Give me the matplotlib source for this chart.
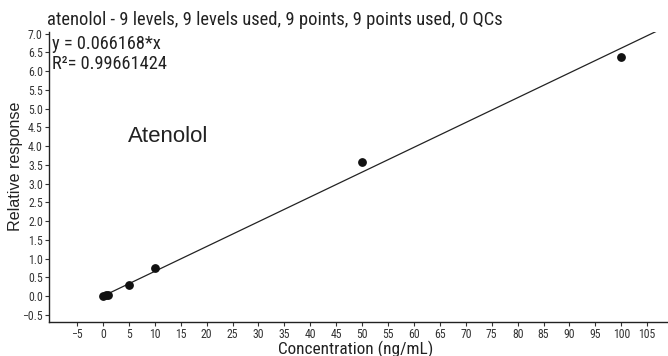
import matplotlib
matplotlib.use("Agg")
import matplotlib.pyplot as plt
import numpy as np

conc = [0, 0.5, 1, 5, 10, 50, 100]
resp = [0.0, 0.02, 0.04, 0.31, 0.755, 3.57, 6.39]
slope = 0.066168
xticks = list(range(-5, 110, 5))
yticks = [-0.5, 0, 0.5, 1, 1.5, 2, 2.5, 3, 3.5, 4, 4.5, 5, 5.5, 6, 6.5, 7]

narrow = ["Roboto Condensed", "Archivo Narrow", "Barlow Semi Condensed", "DejaVu Sans"]
reg = ["Liberation Sans", "DejaVu Sans"]

fig = plt.figure(figsize=(6.68, 3.56), dpi=100)
ax = fig.add_axes([0.0734, 0.0955, 0.925, 0.815])
ax.set_xlim(-10.4, 108.8)
ax.set_ylim(-0.69, 7.05)

lx = np.array([0, 107.5])
ax.plot(lx, slope * lx, color="#222222", lw=0.9)
ax.scatter(conc, resp, s=28, color="#111111", zorder=3)

ax.spines["top"].set_visible(False)
ax.spines["right"].set_visible(False)
for s in ("left", "bottom"):
    ax.spines[s].set_linewidth(1.0)
    ax.spines[s].set_color("#222222")

ax.set_xticks(xticks)
ax.set_xticklabels(["\u2212" + str(-t) if t < 0 else str(t) for t in xticks])
ax.set_yticks(yticks)
ax.set_yticklabels([("\u2212%.1f" % -t) if t < 0 else "%.1f" % t for t in yticks])
ax.tick_params(axis="both", labelsize=8.5, colors="#333333", length=3, width=0.8, pad=1.5)
for lab in ax.get_xticklabels() + ax.get_yticklabels():
    lab.set_family(narrow)

ax.set_xlabel("Concentration (ng/mL)", family=narrow, fontsize=12.4, color="#222222")
ax.xaxis.set_label_coords(0.496, -0.063)
ax.set_ylabel("Relative response", family=reg, fontsize=11.6, color="#222222")
ax.yaxis.set_label_coords(-0.042, 0.538)

fig.text(0.07, 0.944, "atenolol - 9 levels, 9 levels used, 9 points, 9 points used, 0 QCs",
         family=narrow, fontsize=13.3, color="#222222", va="center")
ax.text(0.004, 0.99, "y = 0.066168*x", transform=ax.transAxes, family=narrow,
        fontsize=13.2, color="#222222", va="top")
ax.text(0.004, 0.92, "R\u00b2= 0.99661424", transform=ax.transAxes, family=narrow,
        fontsize=13.2, color="#222222", va="top")
ax.text(4.8, 4.25, "Atenolol", family=reg, fontsize=16, color="#222222", va="center")

fig.savefig("out.png", dpi=100)
